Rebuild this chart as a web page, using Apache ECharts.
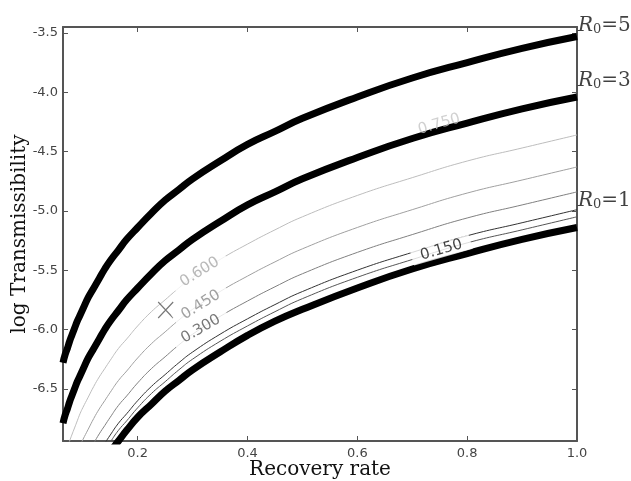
<!DOCTYPE html>
<html>
<head>
<meta charset="utf-8">
<script src="https://cdn.jsdelivr.net/npm/echarts@6/dist/echarts.min.js"></script>
<style>
  html, body { margin: 0; padding: 0; background: #fff; }
  #main { width: 631px; height: 481px; }
</style>
</head>
<body>
<div id="main"></div>
<script>
// recovery rate samples
var recoveryRate = [0.064, 0.068, 0.072, 0.076, 0.08, 0.085, 0.09, 0.095, 0.1, 0.11, 0.12, 0.13, 0.14, 0.15, 0.165, 0.18, 0.2, 0.225, 0.25, 0.275, 0.3, 0.35, 0.4, 0.45, 0.5, 0.6, 0.7, 0.8, 0.9, 1.0];

// thick R0 curves (log transmissibility)
var r0Five  = [-6.28, -6.21, -6.16, -6.10, -6.05, -5.99, -5.93, -5.88, -5.83, -5.73, -5.65, -5.57, -5.49, -5.42, -5.33, -5.24, -5.14, -5.02, -4.91, -4.82, -4.73, -4.58, -4.44, -4.33, -4.22, -4.04, -3.88, -3.75, -3.63, -3.53];
var r0Three = [-6.79, -6.72, -6.67, -6.61, -6.56, -6.50, -6.44, -6.39, -6.34, -6.24, -6.16, -6.08, -6.00, -5.93, -5.84, -5.75, -5.65, -5.53, -5.42, -5.33, -5.24, -5.09, -4.95, -4.84, -4.73, -4.55, -4.39, -4.26, -4.14, -4.04];
var r0One   = [-7.88, -7.82, -7.77, -7.71, -7.66, -7.60, -7.54, -7.49, -7.44, -7.34, -7.26, -7.18, -7.10, -7.03, -6.94, -6.85, -6.74, -6.63, -6.52, -6.43, -6.34, -6.19, -6.05, -5.93, -5.83, -5.65, -5.49, -5.36, -5.24, -5.14];

// thin contour lines
var contourA = [-7.11, -7.05, -6.99, -6.94, -6.89, -6.83, -6.77, -6.71, -6.66, -6.57, -6.48, -6.40, -6.33, -6.26, -6.16, -6.08, -5.97, -5.85, -5.75, -5.65, -5.56, -5.41, -5.28, -5.16, -5.05, -4.87, -4.72, -4.58, -4.47, -4.36];
var contourB = [-7.38, -7.32, -7.26, -7.21, -7.16, -7.10, -7.04, -6.98, -6.93, -6.84, -6.75, -6.67, -6.60, -6.53, -6.43, -6.35, -6.24, -6.12, -6.02, -5.92, -5.83, -5.68, -5.55, -5.43, -5.32, -5.14, -4.99, -4.85, -4.74, -4.63];
var contourC = [-7.59, -7.53, -7.47, -7.42, -7.37, -7.31, -7.25, -7.19, -7.14, -7.05, -6.96, -6.88, -6.81, -6.74, -6.64, -6.56, -6.45, -6.33, -6.23, -6.13, -6.04, -5.89, -5.76, -5.64, -5.53, -5.35, -5.20, -5.06, -4.95, -4.84];
var contourD = [-7.74, -7.68, -7.62, -7.57, -7.52, -7.46, -7.40, -7.34, -7.29, -7.20, -7.11, -7.03, -6.96, -6.89, -6.79, -6.71, -6.60, -6.48, -6.38, -6.28, -6.19, -6.04, -5.91, -5.79, -5.68, -5.50, -5.35, -5.21, -5.10, -4.99];
var contourE = [-7.80, -7.74, -7.68, -7.63, -7.58, -7.52, -7.46, -7.40, -7.35, -7.26, -7.17, -7.09, -7.02, -6.95, -6.85, -6.77, -6.66, -6.54, -6.44, -6.34, -6.25, -6.10, -5.97, -5.85, -5.74, -5.56, -5.41, -5.27, -5.16, -5.05];

// contour labels
var contourLabels = ['0.750', '0.600', '0.450', '0.300', '0.150'];
var contourLabelX = [0.749, 0.313, 0.315, 0.315, 0.753];
var contourLabelY = [-4.27, -5.515, -5.793, -5.996, -5.33];

// R0 labels at the right edge
var r0Labels = ['5', '3', '1'];
var r0LabelY = [-3.43, -3.896, -4.908];

// marked point
var markX = [0.251];
var markY = [-5.836];

var xTicks = [0.2, 0.4, 0.6, 0.8, 1.0];
var yTicks = [-6.5, -6.0, -5.5, -5.0, -4.5, -4.0, -3.5];

var frameColor = '#555';

function pairs(ys) {
    return recoveryRate.map(function (x, i) { return [x, ys[i]]; });
}

function curve(name, ys, color, width) {
    return {
        name: name,
        type: 'line',
        data: pairs(ys),
        smooth: 0.5,
        showSymbol: false,
        silent: true,
        lineStyle: { color: color, width: width },
        z: 2
    };
}

var labelStyle = [
    { color: '#c4c4c4', rotate: 16, bg: 'transparent' },
    { color: '#a8a8a8', rotate: 32, bg: '#fff' },
    { color: '#888', rotate: 32, bg: '#fff' },
    { color: '#555', rotate: 30, bg: '#fff' },
    { color: '#111', rotate: 16, bg: '#fff' }
];

var myChart = echarts.init(document.getElementById('main'));

function xAxisBase(pos, showLabel) {
    return {
        type: 'value',
        position: pos,
        min: 0.064,
        max: 1.0,
        axisLine: { show: true, onZero: false, lineStyle: { color: frameColor, width: 2 } },
        axisTick: { show: true, inside: true, length: 5, customValues: xTicks, lineStyle: { color: frameColor } },
        axisLabel: {
            show: showLabel, customValues: xTicks, margin: 6,
            fontFamily: 'DejaVu Sans', fontSize: 13, color: '#444',
            formatter: function (v) { return v.toFixed(1); }
        },
        splitLine: { show: false }
    };
}

function yAxisBase(pos, showLabel) {
    return {
        type: 'value',
        position: pos,
        min: -6.94,
        max: -3.45,
        axisLine: { show: true, onZero: false, lineStyle: { color: frameColor, width: 2 } },
        axisTick: { show: true, inside: true, length: 5, customValues: yTicks, lineStyle: { color: frameColor } },
        axisLabel: {
            show: showLabel, customValues: yTicks, margin: 5,
            fontFamily: 'DejaVu Sans', fontSize: 13, color: '#444',
            formatter: function (v) { return v.toFixed(1); }
        },
        splitLine: { show: false }
    };
}

var xBottom = xAxisBase('bottom', true);
xBottom.name = 'Recovery rate';
xBottom.nameLocation = 'middle';
xBottom.nameGap = 19;
xBottom.nameMoveOverlap = false;
xBottom.nameTextStyle = { fontFamily: 'DejaVu Serif', fontSize: 20, color: '#111' };

var yLeft = yAxisBase('left', true);
yLeft.name = 'log Transmissibility';
yLeft.nameLocation = 'middle';
yLeft.nameRotate = 90;
yLeft.nameGap = 33;
yLeft.nameMoveOverlap = false;
yLeft.nameTextStyle = { fontFamily: 'DejaVu Serif', fontSize: 20, color: '#111' };

var series = [
    curve('c1', contourA, '#bdbdbd', 1),
    curve('c2', contourB, '#a0a0a0', 1),
    curve('c3', contourC, '#808080', 1),
    curve('c4', contourD, '#333', 1),
    curve('c5', contourE, '#555', 1),
    curve('R0=5', r0Five, '#000', 7),
    curve('R0=3', r0Three, '#000', 7),
    curve('R0=1', r0One, '#000', 7),
    {
        name: 'contour labels',
        type: 'scatter',
        symbolSize: 0,
        silent: true,
        z: 6,
        data: contourLabels.map(function (t, i) {
            return {
                value: [contourLabelX[i], contourLabelY[i]],
                label: {
                    show: true,
                    position: 'inside',
                    formatter: t,
                    rotate: labelStyle[i].rotate,
                    color: labelStyle[i].color,
                    backgroundColor: labelStyle[i].bg,
                    padding: [0, 9],
                    fontFamily: 'DejaVu Sans',
                    fontSize: 15
                }
            };
        })
    },
    {
        name: 'mark',
        type: 'scatter',
        silent: true,
        z: 6,
        symbol: 'path://M0,0L10,10M10,0L0,10',
        symbolSize: [15, 16],
        itemStyle: { color: 'none', borderColor: '#555', borderWidth: 1.2 },
        data: markX.map(function (x, i) { return [x, markY[i]]; })
    },
    {
        name: 'R0 labels',
        type: 'scatter',
        symbolSize: 0,
        silent: true,
        clip: false,
        z: 6,
        data: r0Labels.map(function (t, i) { return [1.0, r0LabelY[i], t]; }),
        label: {
            show: true,
            position: 'right',
            distance: 1,
            formatter: function (p) { return '{r|R}{s|0}{e|=' + p.value[2] + '}'; },
            rich: {
                r: { fontFamily: 'DejaVu Serif', fontStyle: 'italic', fontSize: 20, color: '#111', verticalAlign: 'bottom', lineHeight: 22 },
                s: { fontFamily: 'DejaVu Serif', fontSize: 13, color: '#111', verticalAlign: 'bottom', lineHeight: 16 },
                e: { fontFamily: 'DejaVu Serif', fontSize: 20, color: '#111', verticalAlign: 'bottom', lineHeight: 22 }
            }
        }
    }
];

myChart.setOption({
    animation: false,
    backgroundColor: '#fff',
    grid: { left: 63, right: 54, top: 27, bottom: 40, outerBoundsMode: 'none' },
    xAxis: [xBottom, xAxisBase('top', false)],
    yAxis: [yLeft, yAxisBase('right', false)],
    series: series
});
</script>
</body>
</html>
